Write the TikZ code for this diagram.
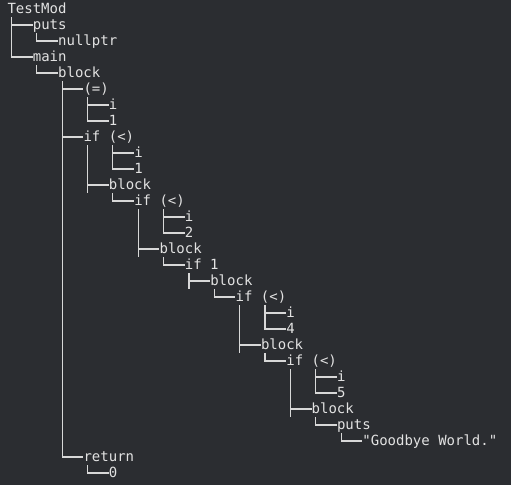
\documentclass[tikz,border=0pt]{standalone}
\usepackage{fontspec}
\setmonofont{DejaVu Sans Mono}
\usetikzlibrary{calc}
\definecolor{bg}{HTML}{2B2D31}
\definecolor{fg}{HTML}{E2E2E2}
\definecolor{ln}{HTML}{D8D8D8}
\newcommand\tnode[4]{\node[lbl] (#1) at ({7.3+#2*8.45},{-(13.5+(#3-1)*16)}) {#4};}
\newcommand\tconn[3][0]{\draw[edge] ($(#2.base west)+({(#1+0.5)*8.45},-3.5)$) |- ($(#3.base west)+(0,4.5)$);}
\newcommand\tstub[2]{%
  \coordinate (tA) at ($(#1.base west)+(4.225,-3.5)$);
  \coordinate (tB) at ($(#2.base west)+(0,4.5)$);
  \coordinate (tC) at ($(#2.base west)+(0,-3.5)$);
  \draw[edge] (tA) -- (tA |- tC);
  \draw[edge] (tA |- tB) -- (tB);}
\begin{document}
\begin{tikzpicture}[x=1pt,y=1pt,
  lbl/.style={anchor=base west, inner sep=0pt, text=fg, font=\fontsize{14}{16}\selectfont\ttfamily},
  edge/.style={draw=ln, line width=1.1pt}]
\fill[bg] (0,0) rectangle (511,-485);
\useasboundingbox (0,0) rectangle (511,-485);
% nodes
\tnode{n1}{0}{1}{TestMod}
\tnode{n2}{3}{2}{puts}
\tnode{n3}{6}{3}{nullptr}
\tnode{n4}{3}{4}{main}
\tnode{n5}{6}{5}{block}
\tnode{n6}{9}{6}{(=)}
\tnode{n7}{12}{7}{i}
\tnode{n8}{12}{8}{1}
\tnode{n9}{9}{9}{if (<)}
\tnode{n10}{15}{10}{i}
\tnode{n11}{15}{11}{1}
\tnode{n12}{12}{12}{block}
\tnode{n13}{15}{13}{if (<)}
\tnode{n14}{21}{14}{i}
\tnode{n15}{21}{15}{2}
\tnode{n16}{18}{16}{block}
\tnode{n17}{21}{17}{if 1}
\tnode{n18}{24}{18}{block}
\tnode{n19}{27}{19}{if (<)}
\tnode{n20}{33}{20}{i}
\tnode{n21}{33}{21}{4}
\tnode{n22}{30}{22}{block}
\tnode{n23}{33}{23}{if (<)}
\tnode{n24}{39}{24}{i}
\tnode{n25}{39}{25}{5}
\tnode{n26}{36}{26}{block}
\tnode{n27}{39}{27}{puts}
\tnode{n28}{42}{28}{"Goodbye World."}
\tnode{n29}{9}{29}{return}
\tnode{n30}{12}{30}{0}
% connectors
\tconn{n1}{n2}
\tconn{n2}{n3}
\tconn{n1}{n4}
\tconn{n4}{n5}
\tconn{n5}{n6}
\tconn{n6}{n7}
\tconn{n6}{n8}
\tconn{n5}{n9}
\tconn[3]{n9}{n10}
\tconn[3]{n9}{n11}
\tstub{n9}{n12}
\tconn{n12}{n13}
\tconn[3]{n13}{n14}
\tconn[3]{n13}{n15}
\tstub{n13}{n16}
\tconn{n16}{n17}
\tstub{n17}{n18}
\tconn{n18}{n19}
\tconn[3]{n19}{n20}
\tconn[3]{n19}{n21}
\tstub{n19}{n22}
\tconn{n22}{n23}
\tconn[3]{n23}{n24}
\tconn[3]{n23}{n25}
\tstub{n23}{n26}
\tconn{n26}{n27}
\tconn{n27}{n28}
\tconn{n5}{n29}
\tconn{n29}{n30}
\end{tikzpicture}
\end{document}
